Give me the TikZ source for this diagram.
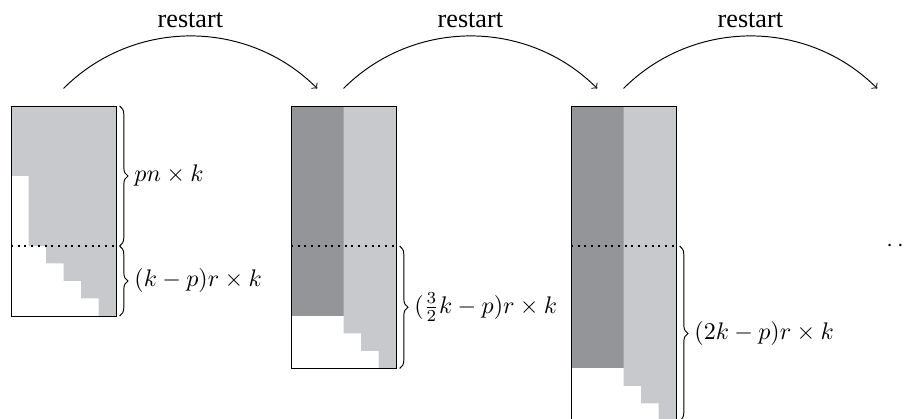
\documentclass[tikz,border=0pt]{standalone}
\usepackage{amsmath}
\usepackage{amssymb}
\usepackage{fontspec}
\newfontfamily\restartfont{Liberation Serif}
\usepackage{xcolor}
\usepackage{tikz}
\usetikzlibrary{decorations.pathreplacing}

\definecolor{lightblock}{RGB}{200,201,204}
\definecolor{darkblock}{RGB}{147,149,152}

\tikzset{
  bracer/.style={decorate, decoration={brace, amplitude=3.5pt, raise=1.5pt}},
  sizelabel/.style={midway, anchor=west, xshift=6.5pt, inner sep=1pt},
  splitline/.style={dotted, thick},
  restartlabel/.style={above, font=\restartfont\fontsize{10.9}{13}\selectfont},
}

\begin{document}
\begin{tikzpicture}[x=7.29pt, y=7.29pt]
\useasboundingbox (-0.629,6.057) rectangle (51.029,-17.886);

% first block
\fill[lightblock] (0,0) -- (6,0) -- (6,-12) -- (5,-12) -- (5,-11) -- (4,-11) -- (4,-10)
  -- (3,-10) -- (3,-9) -- (2,-9) -- (2,-8) -- (1,-8) -- (1,-4) -- (0,-4) -- cycle;
\draw[splitline] (0,-8) -- (6,-8);
\draw (0,0) rectangle (6,-12);
\draw[bracer] (6,0) -- (6,-8) node[sizelabel] (top1) {$pn \times k$};
\draw[bracer] (6,-8) -- (6,-12) node[sizelabel] (bot1) {$(k-p)r \times k$};

% second block
\fill[darkblock] (16,0) rectangle (19,-12);
\fill[lightblock] (19,0) -- (22,0) -- (22,-15) -- (21,-15) -- (21,-14) -- (20,-14)
  -- (20,-13) -- (19,-13) -- cycle;
\draw[splitline] (16,-8) -- (22,-8);
\draw (16,0) rectangle (22,-15);
\draw[bracer] (22,-8) -- (22,-15) node[sizelabel] (bot2) {$(\frac{3}{2}k-p)r \times k$};

% third block
\fill[darkblock] (32,0) rectangle (35,-15);
\fill[lightblock] (35,0) -- (38,0) -- (38,-18) -- (37,-18) -- (37,-17) -- (36,-17)
  -- (36,-16) -- (35,-16) -- cycle;
\draw[splitline] (32,-8) -- (38,-8);
\draw (32,0) rectangle (38,-18);
\draw[bracer] (38,-8) -- (38,-18) node[sizelabel] (bot3) {$(2k-p)r \times k$};

\node[anchor=base west, inner sep=0pt, yshift=-2.5pt] (more) at (50,-8) {$\cdots$};

% restarts
\coordinate (out1) at (3,1);
\coordinate (in2) at (17.5,1);
\coordinate (out2) at (19,1);
\coordinate (in3) at (33.5,1);
\coordinate (out3) at (35,1);
\coordinate (in4) at (49.5,1);
\draw[->] (out1) to[bend left=45] node[restartlabel] (r1) {restart} (in2);
\draw[->] (out2) to[bend left=45] node[restartlabel] (r2) {restart} (in3);
\draw[->] (out3) to[bend left=45] node[restartlabel] (r3) {restart} (in4);
\end{tikzpicture}
\end{document}
